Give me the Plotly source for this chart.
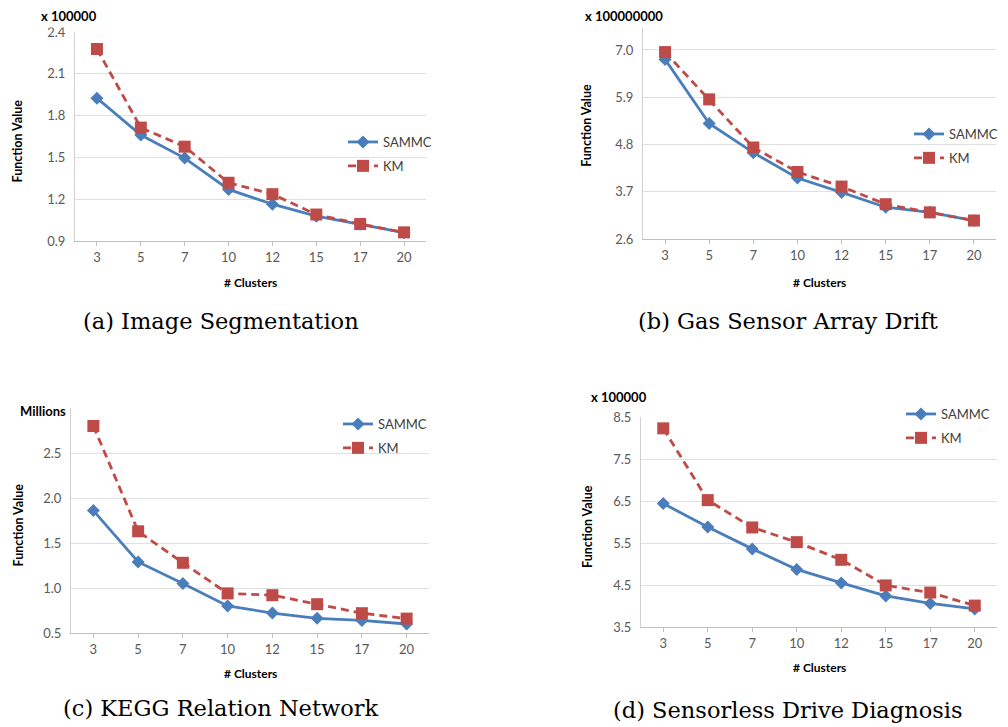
import plotly.graph_objects as go

W, H = 1008, 727
OFF = 8  # default page body margin offsets the figure by 8 px

clusters = ["3", "5", "7", "10", "12", "15", "17", "20"]

# (a) Image Segmentation  (x 100000)
a_sammc = [1.925, 1.661, 1.495, 1.27, 1.164, 1.078, 1.02, 0.96]
a_km = [2.278, 1.714, 1.577, 1.318, 1.236, 1.09, 1.022, 0.962]
# (b) Gas Sensor Array Drift  (x 100000000)
b_sammc = [6.78, 5.29, 4.61, 4.02, 3.685, 3.34, 3.22, 3.03]
b_km = [6.95, 5.85, 4.73, 4.16, 3.82, 3.41, 3.22, 3.03]
# (c) KEGG Relation Network  (Millions)
c_sammc = [1.86, 1.29, 1.05, 0.80, 0.722, 0.663, 0.64, 0.60]
c_km = [2.80, 1.63, 1.28, 0.94, 0.92, 0.82, 0.72, 0.66]
# (d) Sensorless Drive Diagnosis  (x 100000)
d_sammc = [6.44, 5.88, 5.36, 4.87, 4.55, 4.24, 4.06, 3.93]
d_km = [8.23, 6.52, 5.87, 5.52, 5.10, 4.49, 4.32, 4.01]

captions = ["(a) Image Segmentation", "(b) Gas Sensor Array Drift",
            "(c) KEGG Relation Network", "(d) Sensorless Drive Diagnosis"]
units = ["x 100000", "x 100000000", "Millions", "x 100000"]
yranges = [(0.9, 2.4, 0.3), (2.6, 8.1, 1.1), (0.5, 3.0, 0.5), (3.5, 8.5, 1.0)]
hidden_top = [None, "8.1", "3.0", None]
series = [(a_sammc, a_km), (b_sammc, b_km), (c_sammc, c_km), (d_sammc, d_km)]

# layout geometry (pixels in the reference picture)
panels = [
    dict(x0=75, x1=426, y0=32, y1=241, leg=(343, 127), unit=(69, 16), xt=282, yt=17, cap=(221, 321)),
    dict(x0=643, x1=996, y0=2.7, y1=239, leg=(909, 119), unit=(624, 16), xt=282, yt=587, cap=(788, 321)),
    dict(x0=71, x1=429, y0=408, y1=633, leg=(338, 409), unit=(43, 411), xt=673, yt=18, cap=(221, 708)),
    dict(x0=641, x1=997, y0=417, y1=627, leg=(901, 399), unit=(619, 397), xt=667, yt=587, cap=(788, 710)),
]

BLUE = "#4a7ebb"
RED = "#be4b48"
FONT = "Lato"

def px(x):
    return (x - OFF) / W

def py(y):
    return 1 - (y - OFF) / H

fig = go.Figure()
annotations = []
layout = dict(
    width=W, height=H, autosize=False,
    margin=dict(l=0, r=0, t=0, b=0, autoexpand=False),
    paper_bgcolor="white", plot_bgcolor="white",
    font=dict(family=FONT, color="#595959", size=13),
)

for i, p in enumerate(panels):
    n = "" if i == 0 else str(i + 1)
    sam, km = series[i]
    lg = "legend" + n
    fig.add_trace(go.Scatter(
        x=clusters, y=sam, name="SAMMC", mode="lines+markers",
        line=dict(color=BLUE, width=2.8),
        marker=dict(symbol="diamond", size=10, color=BLUE),
        xaxis="x" + n, yaxis="y" + n, legend=lg, legendgroup="s" + n))
    fig.add_trace(go.Scatter(
        x=clusters, y=km, name="KM", mode="lines+markers",
        line=dict(color=RED, width=2.8, dash="8px,5px"),
        marker=dict(symbol="square", size=12, color=RED),
        xaxis="x" + n, yaxis="y" + n, legend=lg, legendgroup="k" + n))
    lo, hi, dt = yranges[i]
    y0, y1 = p["y0"], p["y1"]
    if y0 < OFF:  # plot top lies above the drawable page area: trim the range
        hi = lo + (hi - lo) * (y1 - OFF) / (y1 - y0)
        y0 = OFF
    alias = {hidden_top[i]: ""} if hidden_top[i] else {}
    layout["xaxis" + n] = dict(
        domain=[px(p["x0"]), px(p["x1"])], anchor="y" + n,
        type="category", range=[-0.5, 7.5], automargin=False,
        showline=True, linecolor="#bfbfbf", linewidth=1,
        ticks="outside", ticklen=4, tickcolor="#bfbfbf",
        showgrid=False, zeroline=False,
        tickfont=dict(size=13, color="#595959", family=FONT),
        fixedrange=True,
    )
    layout["yaxis" + n] = dict(
        domain=[py(y1), py(y0)], anchor="x" + n,
        range=[lo, hi], tick0=lo, dtick=dt, tickformat=".1f",
        labelalias=alias, automargin=False,
        showline=True, linecolor="#d0d0d0", linewidth=1,
        showgrid=True, gridcolor="#e0e0e0", gridwidth=1,
        zeroline=False, ticks="", ticklabelstandoff=6,
        tickfont=dict(size=13, color="#595959", family=FONT),
        fixedrange=True,
    )
    layout[lg] = dict(
        x=px(p["leg"][0]), y=py(p["leg"][1]), xanchor="left", yanchor="top",
        bgcolor="rgba(0,0,0,0)", borderwidth=0, tracegroupgap=4,
        font=dict(size=13, color="#404040", family=FONT),
    )
    # axis titles
    annotations.append(dict(
        text="<b># Clusters</b>", x=px((p["x0"] + p["x1"]) / 2), y=py(p["xt"]),
        xref="paper", yref="paper", showarrow=False, xanchor="center", yanchor="middle",
        font=dict(size=12, color="#000000", family=FONT)))
    annotations.append(dict(
        text="<b>Function Value</b>", x=px(p["yt"]), y=py((p["y0"] + p["y1"]) / 2 + 5),
        xref="paper", yref="paper", showarrow=False, xanchor="center", yanchor="middle",
        textangle=-90, font=dict(size=12.5, color="#000000", family=FONT)))
    # unit label box
    annotations.append(dict(
        text="<b>" + units[i] + "</b>", x=px(p["unit"][0]), y=py(p["unit"][1]),
        xref="paper", yref="paper", showarrow=False, xanchor="center", yanchor="middle",
        bgcolor="white", borderpad=3,
        font=dict(size=13, color="#000000", family=FONT)))
    # caption
    annotations.append(dict(
        text=captions[i], x=px(p["cap"][0]), y=py(p["cap"][1]),
        xref="paper", yref="paper", showarrow=False, xanchor="center", yanchor="middle",
        font=dict(size=22.5, color="#000000", family="DejaVu Serif")))

layout["annotations"] = annotations
fig.update_layout(**layout)
fig.write_html("out.html")
